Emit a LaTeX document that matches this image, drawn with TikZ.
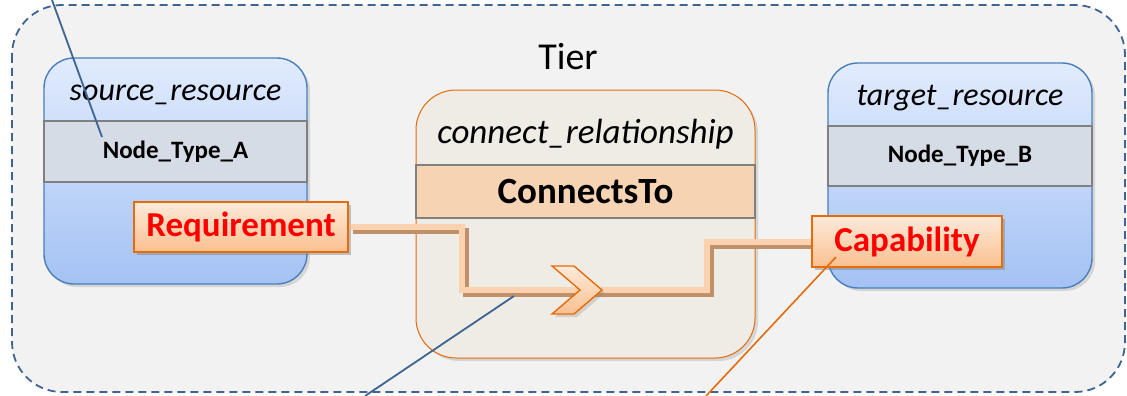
\documentclass[tikz,border=0pt]{standalone}
\usepackage{fontspec}
\setmainfont{Carlito}
\usetikzlibrary{shadows}
\definecolor{tierfill}{HTML}{F2F2F2}
\definecolor{tierline}{HTML}{3E6491}
\definecolor{resline}{HTML}{4A7EBB}
\definecolor{restop}{HTML}{E1EBFD}
\definecolor{resbot}{HTML}{A4C2F4}
\definecolor{bandfill}{HTML}{D6DCE5}
\definecolor{bandline}{HTML}{808080}
\definecolor{orangeline}{HTML}{E46C0A}
\definecolor{peachtop}{HTML}{FDEADA}
\definecolor{peachbot}{HTML}{FAC090}
\definecolor{relfill}{HTML}{EFEBE5}
\definecolor{relband}{HTML}{F6D3B3}
\definecolor{pathlight}{HTML}{FAD2B0}
\definecolor{pathdark}{HTML}{C0906A}
\definecolor{redtext}{HTML}{FF0000}
\tikzset{
  myshadow/.style={drop shadow={opacity=0.25, shadow xshift=3pt, shadow yshift=-3pt}},
  resbox/.style={draw=resline, line width=1.4pt, rounded corners=30pt, top color=restop, bottom color=resbot, myshadow, inner sep=0pt},
  typeband/.style={draw=bandline, line width=1.4pt, fill=bandfill, inner sep=0pt, font=\fontsize{25}{28}\selectfont\bfseries},
  restitle/.style={font=\fontsize{32}{35}\selectfont\itshape, inner sep=0pt},
  capbox/.style={draw=orangeline, line width=1.4pt, top color=peachtop, bottom color=peachbot, myshadow, inner sep=0pt, text=redtext, font=\fontsize{35}{38}\selectfont\bfseries},
  relbox/.style={draw=orangeline, line width=1pt, rounded corners=40pt, fill=relfill, myshadow, inner sep=0pt},
  relband/.style={draw=bandline, line width=1.4pt, fill=relband, inner sep=0pt, font=\fontsize{37}{40}\selectfont\bfseries},
  pointer/.style={draw=tierline, line width=1.8pt},
  opointer/.style={draw=orangeline, line width=1.6pt},
  pathdk/.style={draw=pathdark, line width=6pt, transform canvas={xshift=4pt, yshift=-4pt}},
  pathlt/.style={draw=pathlight, line width=6pt},
}
\begin{document}
\begin{tikzpicture}[x=1pt,y=-1pt]
\useasboundingbox (0,0) rectangle (1127,396);
% tier
\draw[fill=tierfill, draw=tierline, line width=1.8pt, dash pattern=on 8pt off 5pt, rounded corners=50pt] (12,5) rectangle (1125,392);
\node[font=\fontsize{38}{40}\selectfont, inner sep=0pt] (tier) at (568,57) {Tier};

% relationship box
\node[relbox, minimum width=339pt, minimum height=268pt] (rel) at (585.5,224) {};
\node[relband, minimum width=339pt, minimum height=53pt] (relb) at (585.5,191.5) {ConnectsTo};
\node[restitle, font=\fontsize{35}{38}\selectfont\itshape] (relt) at (585.5,134) {connect\_relationship};

% source
\node[resbox, minimum width=263pt, minimum height=226pt] (src) at (175.5,171) {};
\node[typeband, minimum width=263pt, minimum height=61pt] (srcb) at (175.5,151.5) {Node\_Type\_A};
\node[restitle] (srct) at (175.5,95) {source\_resource};

% target
\node[resbox, minimum width=264pt, minimum height=225pt] (tgt) at (960,175.5) {};
\node[typeband, minimum width=264pt, minimum height=60pt] (tgtb) at (960,156) {Node\_Type\_B};
\node[restitle] (tgtt) at (960,98) {target\_resource};

% path corners
\coordinate (p1) at (462,227);
\coordinate (p2) at (462,290);
\coordinate (p3) at (707,290);
\coordinate (p4) at (707,241.5);
\coordinate (chev) at (577,290);

% requirement and capability
\node[capbox, minimum width=214pt, minimum height=50pt] (req) at (241,227) {Requirement};
\node[capbox, minimum width=190pt, minimum height=51pt] (cap) at (907,241.5) {Capability};

\draw[pathdk] (req.east) -- (p1) -- (p2) -- (p3) -- (p4) -- (cap.west);
\draw[pathlt] (req.east) -- (p1) -- (p2) -- (p3) -- (p4) -- (cap.west);

% redraw the ends of the boxes over the path
\node[capbox, minimum width=214pt, minimum height=50pt] at (241,227) {Requirement};
\node[capbox, minimum width=190pt, minimum height=51pt] at (907,241.5) {Capability};

% chevron
\path[draw=orangeline, line width=1.4pt, top color=peachtop, bottom color=peachbot, myshadow, shift={(chev)}]
  (-25,-24) -- (-3,-24) -- (25,0) -- (-3,24) -- (-25,24) -- (3,0) -- cycle;

% pointers
\coordinate (ptA) at (52,0);
\coordinate (ptAend) at (102,137);
\draw[pointer] (ptA) -- (ptAend);
\coordinate (ptR) at (514,296);
\coordinate (ptRend) at (365,396);
\draw[pointer] (ptR) -- (ptRend);
\coordinate (ptC) at (836,257);
\coordinate (ptCend) at (706,396);
\draw[opointer] (ptC) -- (ptCend);
\end{tikzpicture}
\end{document}
